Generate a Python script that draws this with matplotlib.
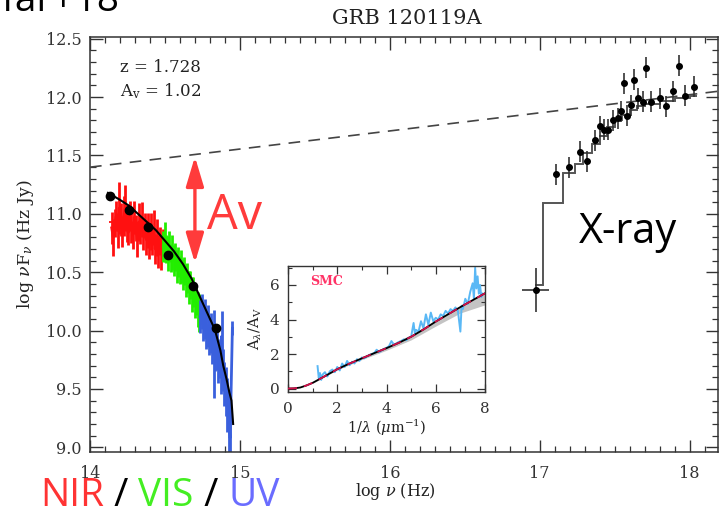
import numpy as np
import matplotlib
matplotlib.use('Agg')
import matplotlib.pyplot as plt
from matplotlib.ticker import MultipleLocator, FormatStrFormatter

plt.rcParams['mathtext.fontset'] = 'dejavuserif'

# ---------------- data ----------------
title = 'GRB 120119A'
redshift_txt = 'z = 1.728'
av_txt = r'A$_{\rm v}$ = 1.02'

# photometric points (log nu, log nuFnu)
phot_x = [14.133, 14.26, 14.385, 14.52, 14.685, 14.84]
phot_y = [11.15, 11.03, 10.89, 10.65, 10.38, 10.02]
phot_err = [0.03, 0.03, 0.03, 0.03, 0.03, 0.03]

# NIR spectrum
nir_x = [14.145, 14.155, 14.165, 14.175, 14.185, 14.195, 14.205, 14.215, 14.225, 14.235,
         14.245, 14.255, 14.265, 14.275, 14.285, 14.295, 14.305, 14.315, 14.325, 14.335,
         14.345, 14.355, 14.365, 14.375, 14.385, 14.395, 14.405, 14.415, 14.425, 14.435,
         14.445, 14.455, 14.465, 14.475, 14.485]
nir_y = [10.88, 10.80, 10.92, 10.98, 10.86, 11.05, 10.95, 10.85, 10.98, 11.05,
         10.92, 10.84, 10.98, 10.90, 10.82, 10.97, 10.88, 10.78, 10.93, 10.86,
         10.95, 10.82, 10.90, 10.78, 10.86, 10.74, 10.85, 10.77, 10.88, 10.70,
         10.80, 10.68, 10.77, 10.66, 10.74]
nir_err = [0.14, 0.16, 0.12, 0.13, 0.15, 0.22, 0.14, 0.13, 0.17, 0.20,
           0.16, 0.11, 0.13, 0.15, 0.12, 0.14, 0.11, 0.15, 0.16, 0.12,
           0.15, 0.13, 0.11, 0.13, 0.15, 0.13, 0.16, 0.12, 0.15, 0.13,
           0.16, 0.14, 0.12, 0.14, 0.13]
nir_phot_x, nir_phot_y, nir_phot_xerr = 14.19, 10.93, 0.06

# VIS spectrum
vis_x = [14.490, 14.500, 14.510, 14.520, 14.530, 14.540, 14.550, 14.560, 14.570, 14.580,
         14.590, 14.600, 14.610, 14.620, 14.630, 14.640, 14.650, 14.660, 14.670, 14.680,
         14.690, 14.700, 14.710, 14.720, 14.730]
vis_y = [10.72, 10.76, 10.70, 10.66, 10.72, 10.62, 10.67, 10.60, 10.63, 10.55,
         10.59, 10.52, 10.55, 10.48, 10.51, 10.43, 10.45, 10.37, 10.39, 10.31,
         10.33, 10.25, 10.26, 10.18, 10.15]
vis_err = [0.13, 0.17, 0.12, 0.15, 0.13, 0.12, 0.15, 0.13, 0.12, 0.14,
           0.13, 0.12, 0.14, 0.13, 0.12, 0.14, 0.13, 0.14, 0.12, 0.15,
           0.13, 0.14, 0.13, 0.15, 0.16]

# UV spectrum
uv_x = [14.735, 14.745, 14.755, 14.765, 14.775, 14.785, 14.795, 14.805, 14.815, 14.825,
        14.835, 14.845, 14.855, 14.865, 14.875, 14.878, 14.885, 14.895, 14.905, 14.915,
        14.925, 14.935, 14.950]
uv_y = [10.12, 10.16, 10.06, 10.10, 10.00, 10.04, 9.95, 9.98, 9.88, 9.80,
        9.82, 9.84, 9.73, 9.76, 9.65, 9.95, 9.66, 9.54, 9.48, 9.36,
        9.22, 9.08, 10.02]
uv_err = [0.14, 0.15, 0.15, 0.17, 0.16, 0.18, 0.16, 0.17, 0.17, 0.38,
          0.17, 0.18, 0.18, 0.17, 0.19, 0.22, 0.18, 0.19, 0.21, 0.23,
          0.26, 0.28, 0.06]

# extincted afterglow model
model_x = [14.12, 14.20, 14.26, 14.32, 14.38, 14.44, 14.50, 14.56, 14.62, 14.68,
           14.74, 14.79, 14.833, 14.87, 14.889, 14.91, 14.93, 14.944, 14.955]
model_y = [11.18, 11.12, 11.07, 11.00, 10.93, 10.86, 10.77, 10.68, 10.57, 10.44,
           10.27, 10.13, 10.01, 9.83, 9.70, 9.59, 9.47, 9.40, 9.20]

# intrinsic (unextincted) power law
intr_x = [14.0, 18.19]
intr_y = [11.40, 12.05]

# Av arrow
av_arrow_x, av_arrow_top, av_arrow_bot = 14.70, 11.49, 10.58

# X-ray data
xr_x = [16.973, 17.107, 17.195, 17.267, 17.318, 17.367, 17.40, 17.427, 17.456, 17.489,
        17.522, 17.544, 17.56, 17.585, 17.611, 17.629, 17.655, 17.689, 17.711, 17.745,
        17.80, 17.844, 17.889, 17.929, 17.973, 18.033]
xr_y = [10.35, 11.34, 11.40, 11.53, 11.45, 11.63, 11.75, 11.72, 11.72, 11.80,
        11.82, 11.88, 12.12, 11.84, 11.93, 12.15, 11.99, 11.96, 12.25, 11.96,
        11.99, 11.92, 12.05, 12.27, 12.01, 12.09]
xr_yerr = [0.19, 0.09, 0.09, 0.09, 0.09, 0.09, 0.09, 0.09, 0.09, 0.09,
           0.09, 0.09, 0.09, 0.09, 0.09, 0.09, 0.09, 0.09, 0.09, 0.09,
           0.09, 0.09, 0.09, 0.09, 0.09, 0.09]
xr_xerr = [0.088, 0.012, 0.012, 0.012, 0.012, 0.012, 0.012, 0.012, 0.012, 0.012,
           0.012, 0.012, 0.012, 0.012, 0.012, 0.012, 0.012, 0.012, 0.012, 0.012,
           0.012, 0.012, 0.012, 0.012, 0.012, 0.012]

# X-ray model (binned)
xm_edges = [16.97, 17.022, 17.155, 17.233, 17.29, 17.35, 17.40, 17.45, 17.50, 17.55,
            17.60, 17.65, 17.70, 17.80, 17.90, 18.00, 18.05]
xm_vals = [10.39, 11.09, 11.35, 11.43, 11.52, 11.60, 11.67, 11.74, 11.80, 11.85,
           11.89, 11.92, 11.94, 11.97, 11.99, 12.01]

# inset: extinction curve
ins_x = [1.20, 1.25, 1.30, 1.35, 1.40, 1.50, 1.60, 1.70, 1.80, 1.90, 2.00, 2.10, 2.20, 2.30,
         2.40, 2.50, 2.60, 2.70, 2.80, 2.90, 3.00, 3.10, 3.20, 3.30, 3.40, 3.50, 3.60, 3.70,
         3.80, 3.90, 4.00, 4.10, 4.20, 4.30, 4.40, 4.50, 4.60, 4.70, 4.80, 4.90, 5.00, 5.10,
         5.15, 5.20, 5.30, 5.40, 5.50, 5.60, 5.70, 5.80, 5.90, 6.00, 6.10, 6.20, 6.30, 6.40,
         6.50, 6.60, 6.70, 6.80, 6.90, 7.00, 7.05, 7.10, 7.20, 7.30, 7.40, 7.50, 7.55, 7.60,
         7.65, 7.70, 7.75, 7.80, 7.85, 7.90]
ins_y = [1.30, 0.60, 0.90, 0.50, 0.80, 0.95, 0.70, 1.00, 1.10, 0.95, 1.25, 1.05, 1.45, 1.25,
         1.60, 1.35, 1.55, 1.45, 1.70, 1.60, 1.80, 1.75, 1.85, 1.95, 2.00, 2.05, 2.25, 2.10,
         2.20, 2.30, 2.35, 2.45, 2.75, 2.55, 2.60, 2.70, 2.75, 2.85, 2.80, 2.95, 3.00, 3.80,
         3.20, 3.40, 3.30, 3.90, 3.50, 4.30, 3.70, 4.40, 3.90, 4.10, 4.00, 4.30, 4.20, 4.50,
         4.35, 4.60, 4.50, 4.70, 4.50, 3.30, 4.80, 4.60, 5.20, 4.90, 5.60, 6.10, 5.20, 7.00,
         5.80, 6.50, 5.50, 6.00, 5.30, 5.50]
ext_x = [0, 0.25, 0.5, 0.75, 1, 1.5, 2, 2.5, 3, 3.5, 4, 4.5, 5, 5.5, 6, 6.5, 7, 7.5, 8]
ext_y = [0, 0.01, 0.06, 0.18, 0.33, 0.72, 1.12, 1.45, 1.75, 2.05, 2.34, 2.65, 3.0, 3.42,
         3.88, 4.30, 4.72, 5.12, 5.52]
band_x = [1, 2, 3, 4, 5, 6, 7, 8]
band_lo = [0.30, 1.08, 1.68, 2.22, 2.82, 3.62, 4.38, 4.85]
band_hi = [0.36, 1.17, 1.83, 2.46, 3.12, 3.98, 4.78, 5.58]

# ---------------- plot ----------------
W, H = 726, 515
fig = plt.figure(figsize=(W / 100, H / 100), dpi=100)
ax = fig.add_axes([90 / W, 1 - 452 / H, 628 / W, 415 / H])

serif = 'DejaVu Serif'
axcol = '#333333'

red, green, blue = '#ff1010', '#22ee00', '#3a60dd'

def spec(x, y, e, c):
    x = np.array(x); y = np.array(y); e = np.array(e)
    ax.vlines(x, y - e, y + e, color=c, lw=2.0, zorder=2)
    ax.plot(x, y, color=c, lw=2.0, zorder=2)

spec(nir_x, nir_y, nir_err, red)
ax.errorbar([nir_phot_x], [nir_phot_y], xerr=[nir_phot_xerr], color=red, lw=1.3, capsize=0, zorder=2)
spec(vis_x, vis_y, vis_err, green)
spec(uv_x, uv_y, uv_err, blue)

ax.plot(model_x, model_y, color='k', lw=1.5, zorder=3)
ax.errorbar(phot_x, phot_y, yerr=phot_err, fmt='o', ms=6, color='k', lw=1.2, zorder=4)

ax.plot(intr_x, intr_y, color='#444444', lw=1.2, dashes=(7, 5), zorder=3)

ax.stairs(xm_vals, xm_edges, color='#555555', lw=1.4, baseline=None, zorder=3)
ax.errorbar(xr_x, xr_y, yerr=xr_yerr, xerr=xr_xerr, fmt='o', ms=4, color='k',
            ecolor='#333333', lw=1.2, capsize=0, zorder=4)

avcol = '#ff3b3b'
ax.annotate('', xy=(av_arrow_x, av_arrow_top), xytext=(av_arrow_x, av_arrow_bot),
            arrowprops=dict(arrowstyle='<|-|>,head_length=1.0,head_width=0.3',
                            mutation_scale=18, lw=2.4, color=avcol, shrinkA=0, shrinkB=0))

ax.set_xlim(14.0, 18.19)
ax.set_ylim(8.96, 12.515)
ax.xaxis.set_major_locator(MultipleLocator(1))
ax.xaxis.set_minor_locator(MultipleLocator(0.1))
ax.yaxis.set_major_locator(MultipleLocator(0.5))
ax.yaxis.set_minor_locator(MultipleLocator(0.1))
ax.yaxis.set_major_formatter(FormatStrFormatter('%.1f'))
ax.tick_params(which='both', direction='in', top=True, right=True, colors=axcol)
ax.tick_params(which='major', length=9, width=1.0)
ax.tick_params(which='minor', length=4, width=0.9)
ax.tick_params(axis='x', pad=9, labelsize=11.5)
ax.tick_params(axis='y', pad=6, labelsize=11.5)
for lab in ax.get_xticklabels() + ax.get_yticklabels():
    lab.set_family(serif)
for s in ax.spines.values():
    s.set_color(axcol)
    s.set_linewidth(1.1)

ax.set_xlabel(r'log $\nu$ (Hz)', family=serif, fontsize=11.5, color='#222222')
ax.xaxis.set_label_coords((395 - 90) / 628, (452 - 492) / 415)
ax.xaxis.label.set_verticalalignment('center')
ax.set_ylabel(r'log $\nu$F$_\nu$ (Hz Jy)', family=serif, fontsize=12.5, color='#222222')
ax.yaxis.set_label_coords((26 - 90) / 628, 0.5)
ax.yaxis.label.set_verticalalignment('center')

ax.text((120 - 90) / 628, (452 - 68) / 415, redshift_txt, transform=ax.transAxes,
        family=serif, fontsize=12, va='center', ha='left', color='#222222')
ax.text((120 - 90) / 628, (452 - 91) / 415, av_txt, transform=ax.transAxes,
        family=serif, fontsize=12, va='center', ha='left', color='#222222')

fig.text(407 / W, 1 - 19 / H, title, family=serif, fontsize=15, ha='center', va='center',
         color='#222222')

# annotations
fig.text(207 / W, 1 - 216 / H, 'Av', family='Open Sans', fontsize=35, color=avcol,
         ha='left', va='center')
fig.text(579 / W, 1 - 232 / H, 'X-ray', family='Open Sans', fontsize=30, color='k',
         ha='left', va='center')

x0 = 40 / W
parts = [('NIR', '#ff3333'), (' / ', 'k'), ('VIS', '#44ee22'), (' / ', 'k'), ('UV', '#6a6cff')]
fig.canvas.draw()
r = fig.canvas.get_renderer()
xc = x0
for t, c in parts:
    tx = fig.text(xc, 1 - 506 / H, t, family='Open Sans', fontsize=28, color=c,
                  ha='left', va='baseline')
    bb = tx.get_window_extent(renderer=r)
    xc += bb.width / W

fig.text(120 / W, 1 - 11 / H, 'Zafar+18', family='Open Sans', fontsize=28, color='k',
         ha='right', va='baseline')

# ---------------- inset ----------------
ix = fig.add_axes([288 / W, 1 - 392 / H, 197 / W, 126 / H])
ix.fill_between(band_x, band_lo, band_hi, color='#c4c4c4', lw=0, zorder=1)
ix.plot(ins_x, ins_y, color='#5ab8f5', lw=1.4, zorder=2)
ix.plot(ext_x, ext_y, color='k', lw=1.3, zorder=3)
ix.plot(ext_x, ext_y, color='#d0104a', lw=1.3, dashes=(5, 4), zorder=4)
ix.text(0.9, 6.2, 'SMC', family=serif, fontsize=9, fontweight='bold', color='#ff3366',
        ha='left', va='center')
ix.set_xlim(0, 8)
ix.set_ylim(-0.2, 7.1)
ix.xaxis.set_major_locator(MultipleLocator(2))
ix.xaxis.set_minor_locator(MultipleLocator(1))
ix.yaxis.set_major_locator(MultipleLocator(2))
ix.yaxis.set_minor_locator(MultipleLocator(1))
ix.tick_params(which='both', direction='in', top=True, right=True, colors=axcol, labelsize=11)
ix.tick_params(which='major', length=6, width=0.9)
ix.tick_params(which='minor', length=3, width=0.8)
ix.tick_params(axis='x', pad=7)
ix.tick_params(axis='y', pad=6)
for lab in ix.get_xticklabels() + ix.get_yticklabels():
    lab.set_family(serif)
for s in ix.spines.values():
    s.set_color(axcol)
    s.set_linewidth(1.0)
ix.set_xlabel(r'1/$\lambda$ ($\mu$m$^{-1}$)', family=serif, fontsize=10.5, color='#222222')
ix.xaxis.set_label_coords(0.5, (392 - 428) / 126)
ix.xaxis.label.set_verticalalignment('center')
ix.set_ylabel(r'A$_\lambda$/A$_{\rm V}$', family=serif, fontsize=10.5, color='#222222')
ix.yaxis.set_label_coords((255 - 288) / 197, 0.5)
ix.yaxis.label.set_verticalalignment('center')

fig.savefig('out.png', dpi=100)
